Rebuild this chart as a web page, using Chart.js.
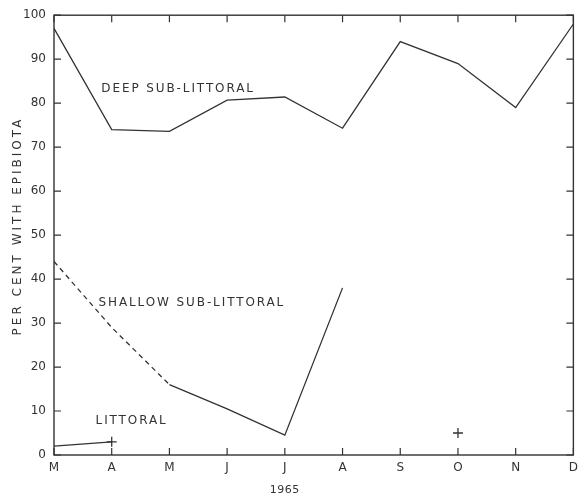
<!DOCTYPE html>
<html>
<head>
<meta charset="utf-8">
<script src="https://cdn.jsdelivr.net/npm/chart.js@4/dist/chart.umd.min.js"></script>
<style>
  html, body { margin: 0; padding: 0; background: #fff; }
</style>
</head>
<body>
<canvas id="chart" width="584" height="497"></canvas>
<script>
// months of 1965 (March to December)
const months = ['M', 'A', 'M', 'J', 'J', 'A', 'S', 'O', 'N', 'D'];
const yTicks = [0, 10, 20, 30, 40, 50, 60, 70, 80, 90, 100];

const deepSubLittoral = [97, 74, 73.6, 80.7, 81.4, 74.3, 94, 89, 79, 98];
const shallowSubLittoral = [44, 29, 16, 10.5, 4.5, 38, null, null, null, null];
const littoral = [2, 3, null, null, null, null, null, 5, null, null];

const ink = '#333';
const labelFont = '12px "DejaVu Sans", sans-serif';

// text drawn inside the plot, placed in data units
const notes = [
  { text: 'DEEP SUB-LITTORAL', at: [0.82, 83.2] },
  { text: 'SHALLOW SUB-LITTORAL', at: [0.77, 34.7] },
  { text: 'LITTORAL', at: [0.72, 7.7] }
];

const framePlugin = {
  id: 'frame',
  afterDraw(chart) {
    const ctx = chart.ctx;
    const a = chart.chartArea;
    const x = chart.scales.x;
    const y = chart.scales.y;
    ctx.save();
    ctx.strokeStyle = ink;
    ctx.lineWidth = 1.4;
    ctx.strokeRect(a.left, a.top, a.right - a.left, a.bottom - a.top);

    // inward ticks on all four sides
    ctx.lineWidth = 1.2;
    ctx.beginPath();
    months.forEach((m, i) => {
      const px = x.getPixelForValue(i);
      ctx.moveTo(px, a.bottom); ctx.lineTo(px, a.bottom - 7);
      ctx.moveTo(px, a.top); ctx.lineTo(px, a.top + 7);
    });
    yTicks.forEach(v => {
      const py = y.getPixelForValue(v);
      ctx.moveTo(a.left, py); ctx.lineTo(a.left + 7, py);
      ctx.moveTo(a.right, py); ctx.lineTo(a.right - 7, py);
    });
    ctx.stroke();

    // series labels
    ctx.fillStyle = ink;
    ctx.font = labelFont;
    ctx.letterSpacing = '1.9px';
    ctx.textBaseline = 'middle';
    ctx.textAlign = 'left';
    notes.forEach(n => {
      ctx.fillText(n.text, x.getPixelForValue(n.at[0]), y.getPixelForValue(n.at[1]));
    });

    // year under the July tick
    ctx.font = '11px "DejaVu Sans", sans-serif';
    ctx.letterSpacing = '0.5px';
    ctx.textAlign = 'center';
    ctx.fillText('1965', x.getPixelForValue(4), 490);

    // y axis title
    ctx.font = labelFont;
    ctx.letterSpacing = '3px';
    ctx.translate(18, 226);
    ctx.rotate(-Math.PI / 2);
    ctx.fillText('PER CENT WITH EPIBIOTA', 0, 0);
    ctx.restore();
  }
};

const ctx = document.getElementById('chart').getContext('2d');
new Chart(ctx, {
  type: 'line',
  data: {
    labels: months,
    datasets: [
      {
        label: 'Deep sub-littoral',
        data: deepSubLittoral,
        borderColor: ink,
        borderWidth: 1.3,
        pointRadius: 0,
        tension: 0
      },
      {
        label: 'Shallow sub-littoral',
        data: shallowSubLittoral,
        borderColor: ink,
        borderWidth: 1.3,
        pointRadius: 0,
        tension: 0,
        segment: {
          borderDash: c => c.p1DataIndex <= 2 ? [5, 4] : undefined
        }
      },
      {
        label: 'Littoral',
        data: littoral,
        borderColor: ink,
        borderWidth: 1.3,
        pointStyle: 'cross',
        pointRadius: c => c.dataIndex === 0 ? 0 : 5,
        pointBorderColor: ink,
        pointBorderWidth: 1.3,
        spanGaps: false,
        tension: 0
      }
    ]
  },
  options: {
    responsive: false,
    animation: false,
    layout: { padding: { top: 14, right: 6, left: 0, bottom: 0 } },
    plugins: {
      legend: { display: false },
      tooltip: { enabled: false }
    },
    scales: {
      x: {
        offset: false,
        grid: { display: false, drawTicks: false },
        border: { display: false },
        ticks: {
          color: ink,
          padding: 6,
          maxRotation: 0,
          autoSkip: false,
          font: { family: '"DejaVu Sans", sans-serif', size: 12 }
        },
        afterFit: s => { s.height = 42; }
      },
      y: {
        min: 0,
        max: 100,
        grid: { display: false, drawTicks: false },
        border: { display: false },
        ticks: {
          color: ink,
          stepSize: 10,
          padding: 8,
          font: { family: '"DejaVu Sans", sans-serif', size: 12 }
        },
        afterFit: s => { s.width = 54; }
      }
    }
  },
  plugins: [framePlugin]
});
</script>
</body>
</html>
